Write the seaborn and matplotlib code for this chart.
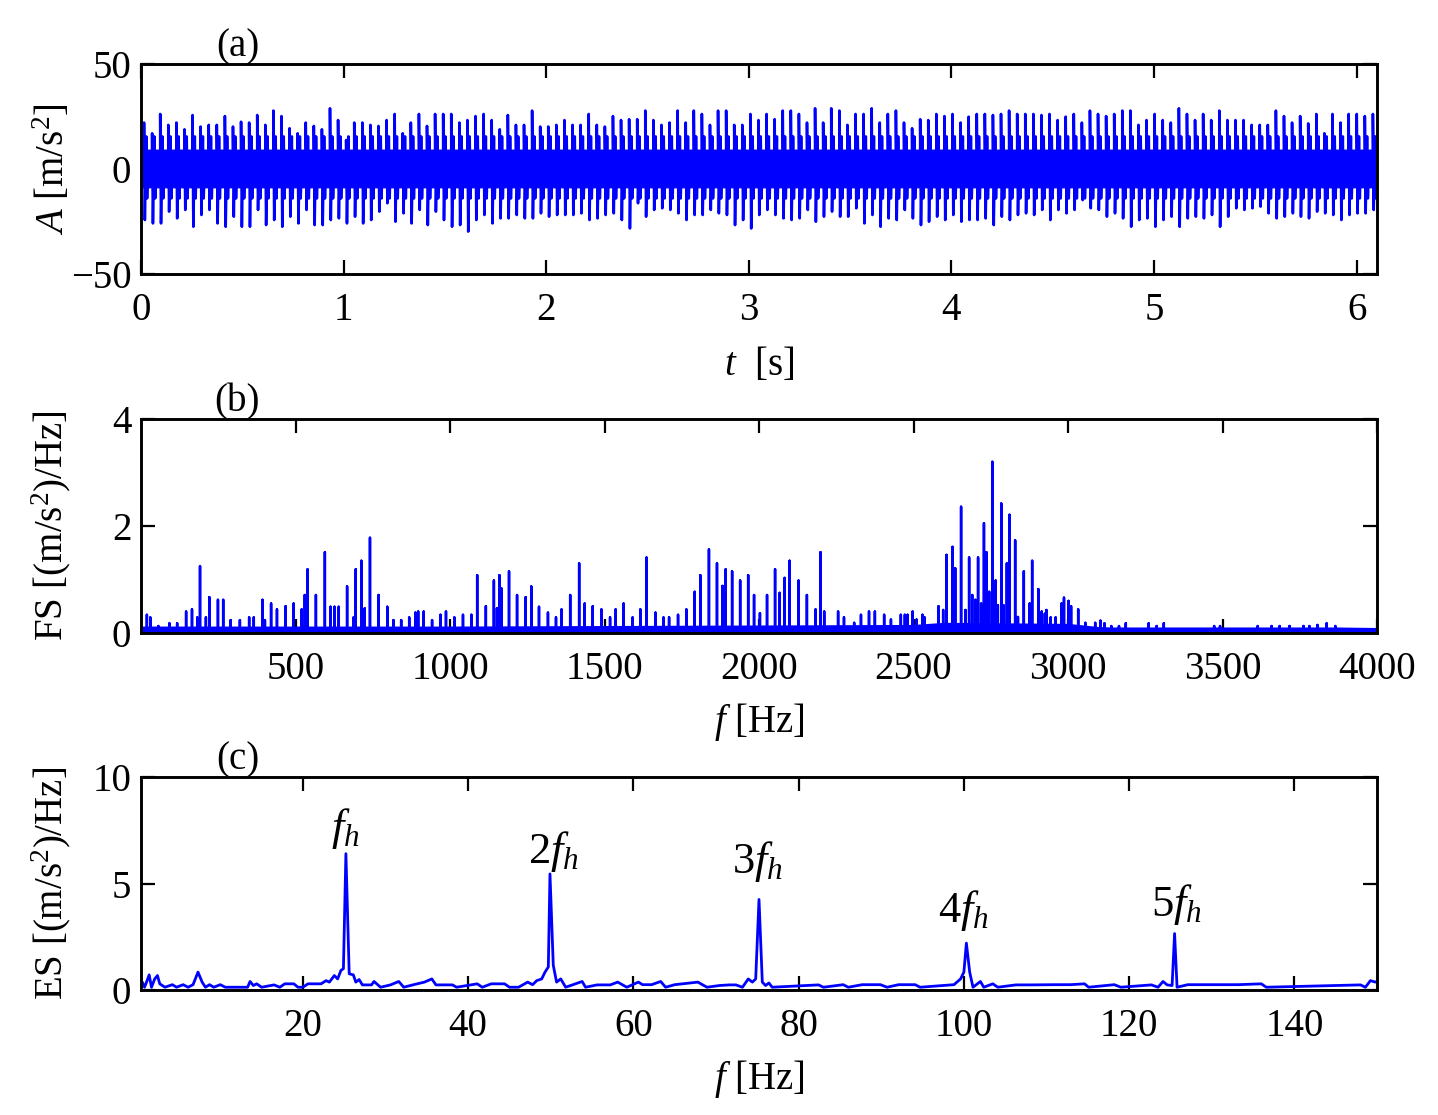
import numpy as np
import pandas as pd
import matplotlib
matplotlib.use("Agg")
import matplotlib.pyplot as plt
import seaborn as sns

# ---------------- data ----------------
# (a) time signal: impulse train (fault period) + band of background vibration
A_T_FIRST = 0.015          # s, first impulse
A_PERIOD = 0.0399          # s, impulse spacing (~25 Hz)
A_POS = [22.1, 17.0, 26.2, 21.0, 22.1, 18.9, 25.7, 20.2, 21.0, 21.0, 25.2, 20.2, 22.5, 22.1, 25.7, 21.0,
         27.8, 25.2, 19.4, 17.0, 22.1, 20.5, 18.9, 28.9, 23.3, 13.8, 22.1, 22.1, 21.0, 20.5, 23.3, 26.2,
         17.0, 22.1, 26.2, 20.5, 26.2, 26.2, 26.2, 22.1, 23.3, 25.2, 26.2, 23.3, 18.9, 25.7, 21.0, 21.0,
         27.8, 20.2, 20.2, 21.0,
         23.3, 21.0, 21.0, 26.2, 21.0, 20.2, 25.2, 23.3, 23.7, 23.7, 27.8, 23.3, 21.0, 22.1, 27.8, 22.1,
         27.8, 26.2, 21.0, 27.8, 27.8, 21.0, 21.0, 26.2, 23.3, 26.2, 23.7, 27.8, 27.8, 26.2, 22.1, 28.9,
         22.1, 28.9, 27.8, 21.0, 26.2, 26.2, 28.9, 22.1, 26.2, 27.8, 22.1, 19.4, 23.7, 23.3, 26.2, 25.2,
         26.2, 22.1,
         24.9, 26.2, 26.2, 25.7, 26.2, 27.8, 26.2, 26.2, 26.2, 25.7, 26.2, 23.3, 24.9, 26.2, 22.1, 27.8,
         26.2, 25.2, 26.2, 27.8, 27.8, 21.0, 23.3, 26.2, 23.3, 22.1, 28.9, 26.2, 23.3, 26.2, 23.3, 27.8,
         23.3, 23.3, 23.3, 21.0, 21.0, 21.0, 27.8, 25.2, 22.1, 25.2, 21.7, 26.2, 17.0, 26.2, 22.1, 26.2,
         26.2, 25.2, 26.2]
A_NEG = [24.3, 25.9, 25.9, 20.3, 23.5, 19.5, 27.5, 21.9, 19.5, 25.9, 27.5, 22.7, 27.5, 27.5, 19.5, 26.7,
         24.3, 27.5, 22.7, 25.9, 19.5, 26.7, 26.7, 24.3, 23.5, 25.9, 22.7, 25.9, 24.3, 20.3, 16.3, 25.1,
         21.1, 25.9, 19.5, 26.7, 20.3, 24.3, 27.5, 26.7, 29.8, 24.3, 21.9, 25.9, 23.5, 23.5, 21.9, 23.5,
         23.5, 21.1, 22.7, 21.9,
         21.9, 21.9, 21.1, 24.3, 23.5, 21.9, 21.1, 24.3, 28.3, 16.3, 22.7, 19.5, 18.7, 19.5, 21.1, 24.3,
         21.9, 21.9, 19.5, 21.1, 21.9, 26.7, 24.3, 28.3, 21.9, 19.5, 21.9, 23.5, 24.3, 23.5, 19.5, 25.1,
         22.7, 20.3, 22.7, 22.7, 18.7, 25.9, 21.9, 27.5, 23.5, 24.3, 19.5, 23.5, 26.7, 25.1, 22.7, 24.3,
         21.9, 25.1,
         24.3, 24.3, 23.5, 26.7, 22.7, 24.3, 21.9, 21.1, 21.9, 19.5, 24.3, 19.5, 21.1, 19.5, 14.8, 18.7,
         19.5, 22.7, 21.1, 23.5, 27.5, 24.3, 23.5, 27.5, 24.3, 22.7, 27.5, 23.5, 22.7, 23.5, 21.9, 27.5,
         22.7, 18.7, 19.5, 18.7, 17.9, 21.1, 23.5, 22.7, 21.1, 22.7, 23.5, 20.3, 21.1, 21.9, 24.3, 21.9,
         21.1, 21.1, 19.5]
A_RING = (15.5, -14.0)         # secondary ring-down swing after each impulse
A_BAND_OUTER = (12.5, -12.2)   # band just after each impulse
A_BAND_INNER = (9.5, -9.0)     # band for the rest of the period
A_BAND_SPLIT = 0.35            # fraction of period at outer level

# (b) Fourier spectrum: peak frequencies [Hz] and heights
FS_FREQ = [19, 30, 56, 92, 117, 146, 165, 182, 191, 210, 221, 249, 266, 290, 320, 350, 365, 393, 401, 421,
           440, 468, 494, 520, 530, 539, 566, 595, 613, 626, 640, 667, 688, 695, 713, 724, 741, 769, 797,
           817, 842, 868, 888, 897, 915, 942, 969, 987, 1014, 1042, 1069, 1088, 1116, 1142, 1152, 1160,
           1167, 1191, 1217, 1245, 1263, 1288, 1317, 1343, 1361, 1389, 1418, 1436, 1462, 1490, 1518, 1536,
           1562, 1591, 1616, 1636, 1665, 1691, 1709, 1738, 1765, 1792, 1810, 1838, 1864, 1882, 1892, 1913,
           1939, 1965, 1984,
           2003, 2026, 2052, 2067, 2083, 2099, 2128, 2155, 2183, 2199, 2211, 2256, 2275, 2308, 2330, 2356,
           2375, 2405, 2427, 2459, 2472, 2481, 2497, 2510, 2529, 2536, 2581, 2596, 2607, 2626, 2635, 2654,
           2668, 2680, 2690, 2700, 2709, 2719, 2728, 2736, 2745, 2755, 2766, 2773, 2784, 2791, 2802, 2811,
           2829, 2838, 2857, 2876, 2884, 2904, 2915, 2925, 2930, 2944, 2960, 2979, 2987, 3002, 3010, 3033,
           3056, 3088, 3105, 3118, 3140, 3165, 3187, 3261, 3287, 3310, 3473, 3492, 3614, 3659, 3685, 3717,
           3762, 3781, 3807, 3837, 3865]
FS_AMP = [0.34, 0.29, 0.13, 0.18, 0.18, 0.40, 0.44, 0.29, 1.25, 0.29, 0.67, 0.62, 0.62, 0.24, 0.24, 0.29,
          0.29, 0.62, 0.24, 0.55, 0.44, 0.50, 0.55, 0.44, 0.71, 1.19, 0.71, 1.51, 0.49, 0.49, 0.49, 0.87,
          0.29, 1.19, 1.35, 0.46, 1.78, 0.71, 0.49, 0.24, 0.24, 0.29, 0.38, 0.40, 0.40, 0.24, 0.34, 0.40,
          0.29, 0.34, 0.34, 1.08, 0.50, 0.98, 0.46, 1.08, 0.83, 1.15, 0.71, 0.67, 0.87, 0.49, 0.38, 0.29,
          0.44, 0.71, 1.30, 0.55, 0.50, 0.44, 0.29, 0.44, 0.55, 0.29, 0.44, 1.41, 0.38, 0.29, 0.29, 0.34,
          0.44, 0.77, 1.08, 1.56, 1.30, 0.88, 1.19, 1.15, 0.98, 1.08, 0.71,
          0.37, 0.71, 1.19, 0.75, 1.03, 1.35, 0.98, 0.71, 0.44, 1.51, 0.40, 0.40, 0.29, 0.19, 0.34, 0.40,
          0.40, 0.34, 0.25, 0.34, 0.34, 0.34, 0.40, 0.25, 0.34, 0.29, 0.50, 0.43, 1.46, 1.61, 1.21, 2.36,
          0.43, 1.41, 0.71, 0.62, 1.41, 0.55, 2.05, 1.51, 0.77, 3.20, 0.98, 0.52, 2.42, 0.52, 1.30, 2.21,
          1.73, 0.30, 1.15, 0.55, 1.35, 0.82, 0.40, 0.36, 0.43, 0.29, 0.29, 0.55, 0.66, 0.60, 0.50, 0.44,
          0.19, 0.19, 0.23, 0.18, 0.13, 0.13, 0.18, 0.18, 0.13, 0.18, 0.13, 0.13, 0.13, 0.13, 0.13, 0.13,
          0.13, 0.13, 0.15, 0.18, 0.13]
FS_BASE = 0.08
GRASS_F = [0, 1000, 2000, 2500, 2600, 3000, 3100, 3200, 4000]
GRASS_V = [0.13, 0.13, 0.15, 0.16, 0.20, 0.18, 0.12, 0.08, 0.07]

# (c) envelope spectrum
ES_FREQ = [0.4, 0.56, 0.83, 1.1, 1.39, 1.67, 2.06, 2.39, 2.67, 3.3, 4.2, 4.7, 5.5, 6.1, 6.7, 7.3, 7.8, 8.2,
           8.7, 9.2, 10.0, 10.6, 13.3, 13.6, 14.0, 14.4, 15.0, 16.5, 17.2, 17.8, 18.9, 19.4, 20.0, 20.6,
           22.2, 22.8, 23.2, 23.8, 24.2, 24.6, 24.9, 25.2, 25.6, 26.1, 26.4, 26.8, 27.2, 28.3, 28.6, 29.4,
           30.6, 31.6, 32.2, 33.3, 34.7, 35.6, 36.1, 38.1, 38.6, 41.1, 41.7, 42.8, 44.4, 45.0, 46.1, 47.2,
           47.8, 48.3, 48.9, 49.3, 49.7, 49.9, 50.3, 50.7, 51.2, 51.8, 53.8, 54.2, 55.6, 57.2, 58.1, 59.2,
           60.6, 61.1, 62.2, 63.3, 63.9, 65.0, 67.8, 68.9, 70.4, 71.6, 72.4, 73.2, 73.9, 74.4, 74.8, 75.2,
           75.6, 76.0, 76.4, 76.8, 82.4, 83.0, 85.4, 86.0, 87.7, 88.2, 89.1, 89.9, 90.7, 92.1, 93.2, 94.1,
           94.7, 98.8, 99.6, 100.0, 100.3, 100.7, 101.1, 102.0, 102.4, 103.5, 104.1, 106.3, 107.7, 108.2,
           110.4, 111.0, 112.9, 114.6, 115.1, 118.2, 119.0, 122.7, 123.5, 124.1, 124.6, 125.2, 125.5, 125.8,
           127.1, 129.1, 131.0, 132.1, 133.2, 136.0, 136.6, 148.0, 148.6, 149.2, 149.8, 150.5]
ES_AMP = [0.35, 0.37, 0.13, 0.40, 0.71, 0.13, 0.52, 0.68, 0.29, 0.13, 0.25, 0.13, 0.25, 0.13, 0.25, 0.84,
          0.37, 0.13, 0.25, 0.13, 0.25, 0.13, 0.13, 0.40, 0.21, 0.29, 0.13, 0.24, 0.13, 0.29, 0.29, 0.13,
          0.13, 0.29, 0.29, 0.44, 0.37, 0.68, 0.52, 0.92, 1.00, 6.40, 0.76, 0.71, 0.37, 0.49, 0.24, 0.24,
          0.40, 0.13, 0.24, 0.40, 0.13, 0.24, 0.37, 0.52, 0.24, 0.24, 0.13, 0.29, 0.13, 0.29, 0.29, 0.13,
          0.13, 0.37, 0.25, 0.44, 0.52, 0.84, 1.08, 5.45, 1.16, 0.37, 0.52, 0.13, 0.40, 0.13, 0.24, 0.24,
          0.37, 0.13, 0.37, 0.25, 0.25, 0.40, 0.13, 0.25, 0.37, 0.13, 0.21, 0.24, 0.24, 0.13, 0.52, 0.37,
          0.52, 4.25, 0.37, 0.21, 0.33, 0.13, 0.24, 0.13, 0.25, 0.13, 0.25, 0.25, 0.25, 0.25, 0.13, 0.25,
          0.25, 0.25, 0.13, 0.25, 0.52, 0.84, 2.20, 0.84, 0.13, 0.40, 0.13, 0.29, 0.13, 0.24, 0.24, 0.24,
          0.25, 0.25, 0.25, 0.29, 0.13, 0.25, 0.13, 0.24, 0.13, 0.40, 0.24, 0.21, 2.65, 0.13, 0.25, 0.25,
          0.25, 0.25, 0.25, 0.29, 0.13, 0.24, 0.13, 0.44, 0.37, 0.52]
HARM_LABELS = [r'$f_h$', r'$2f_h$', r'$3f_h$', r'$4f_h$', r'$5f_h$']
HARM_X = [25.1, 50.3, 75.0, 99.9, 125.7]
HARM_Y = [7.6, 6.5, 6.05, 3.75, 4.0]

A_XTICKS = [0, 1, 2, 3, 4, 5, 6]
A_YTICKS = [-50, 0, 50]
B_XTICKS = [500, 1000, 1500, 2000, 2500, 3000, 3500, 4000]
B_YTICKS = [0, 2, 4]
C_XTICKS = [20, 40, 60, 80, 100, 120, 140]
C_YTICKS = [0, 5, 10]

# ---------------- style ----------------
sns.set_theme(style="white")
plt.rcParams['font.family'] = ['Liberation Serif', 'DejaVu Serif']
plt.rcParams['mathtext.fontset'] = 'custom'
plt.rcParams['mathtext.rm'] = 'Liberation Serif'
plt.rcParams['mathtext.it'] = 'Liberation Serif:italic'
plt.rcParams['mathtext.bf'] = 'Liberation Serif:bold'
plt.rcParams['axes.unicode_minus'] = True
for k in ['text.color', 'axes.labelcolor', 'xtick.color', 'ytick.color', 'axes.edgecolor']:
    plt.rcParams[k] = 'black'

BLUE = '#0000FF'
FS = 28

fig = plt.figure(figsize=(14.38, 11.15), dpi=100)
L, W = 141 / 1438, 1236 / 1438


def rect(top, bottom):
    return [L, 1 - bottom / 1115, W, (bottom - top) / 1115]


axA = fig.add_axes(rect(64, 274))
axB = fig.add_axes(rect(419, 633))
axC = fig.add_axes(rect(777, 990))


def style(ax, label, xlab_y):
    ax.set_facecolor('white')
    for s in ax.spines.values():
        s.set_visible(True)
        s.set_linewidth(2.1)
        s.set_color('black')
        s.set_zorder(5)
    ax.tick_params(direction='in', length=10, width=1.6, top=True, right=True,
                   bottom=True, left=True, labelsize=FS, colors='black')
    ax.tick_params(axis='x', pad=13)
    ax.tick_params(axis='y', pad=7)
    ax.grid(False)
    ax.text(0.078, 0.995, label, transform=ax.transAxes, ha='center', va='bottom',
            fontsize=FS, color='black')
    ax.yaxis.set_label_coords(-0.055, 0.5)
    ax.xaxis.set_label_coords(0.5, xlab_y)


# ---- (a) ----
n_imp = len(A_POS)
t_imp = A_T_FIRST + A_PERIOD * np.arange(n_imp)
xs, ys = [0.0], [0.0]
for ti, p, n in zip(t_imp, A_POS, A_NEG):
    xs += [ti, ti, ti + 0.004, ti + 0.011, ti + 0.015, ti + 0.019]
    ys += [0.0, p, -n, A_RING[0], A_RING[1], 0.0]
xs.append(6.1)
ys.append(0.0)
band_x, band_hi, band_lo = [0.0], [A_BAND_INNER[0]], [A_BAND_INNER[1]]
for ti in t_imp:
    band_x += [ti, ti + A_BAND_SPLIT * A_PERIOD]
    band_hi += [A_BAND_OUTER[0], A_BAND_INNER[0]]
    band_lo += [A_BAND_OUTER[1], A_BAND_INNER[1]]
band_x.append(6.2)
band_hi.append(A_BAND_INNER[0])
band_lo.append(A_BAND_INNER[1])
axA.fill_between(band_x, band_lo, band_hi, step='post', color=BLUE, lw=0, zorder=1)
sns.lineplot(x=xs, y=ys, ax=axA, color=BLUE, lw=1.9, sort=False, estimator=None, zorder=2)
axA.set_xlim(0, 6.1)
axA.set_ylim(-50, 50)
axA.set_xticks(A_XTICKS)
axA.set_yticks(A_YTICKS)
axA.set_xlabel(r'$t$  [s]', fontsize=FS)
axA.set_ylabel(r'$A$ [m/s$^{2}$]', fontsize=FS)
style(axA, '(a)', -0.345)

# ---- (b) ----
bx, by = [0.0], [FS_BASE]
for f, v in zip(FS_FREQ, FS_AMP):
    bx += [f, f, f]
    by += [FS_BASE, v, FS_BASE]
bx.append(4010)
by.append(GRASS_V[-1])
axB.fill_between(GRASS_F, 0, GRASS_V, color=BLUE, lw=0, zorder=1)
sns.lineplot(x=bx, y=by, ax=axB, color=BLUE, lw=1.8, sort=False, estimator=None, zorder=2)
axB.set_xlim(0, 4000)
axB.set_ylim(0, 4)
axB.set_xticks(B_XTICKS)
axB.set_yticks(B_YTICKS)
axB.set_xlabel(r'$f$ [Hz]', fontsize=FS)
axB.set_ylabel(r'FS [(m/s$^{2}$)/Hz]', fontsize=FS)
style(axB, '(b)', -0.32)

# ---- (c) ----
es = pd.DataFrame({'f': ES_FREQ, 'a': ES_AMP})
sns.lineplot(data=es, x='f', y='a', ax=axC, color=BLUE, lw=2.0, sort=False, estimator=None)
for lab, hx, hy in zip(HARM_LABELS, HARM_X, HARM_Y):
    axC.text(hx, hy, lab, ha='center', va='center', fontsize=FS + 4, color='black')
axC.set_xlim(0.4, 150)
axC.set_ylim(0, 10)
axC.set_xticks(C_XTICKS)
axC.set_yticks(C_YTICKS)
axC.set_xlabel(r'$f$ [Hz]', fontsize=FS)
axC.set_ylabel(r'ES [(m/s$^{2}$)/Hz]', fontsize=FS)
style(axC, '(c)', -0.32)

fig.savefig('out.png', dpi=100, facecolor='white')
